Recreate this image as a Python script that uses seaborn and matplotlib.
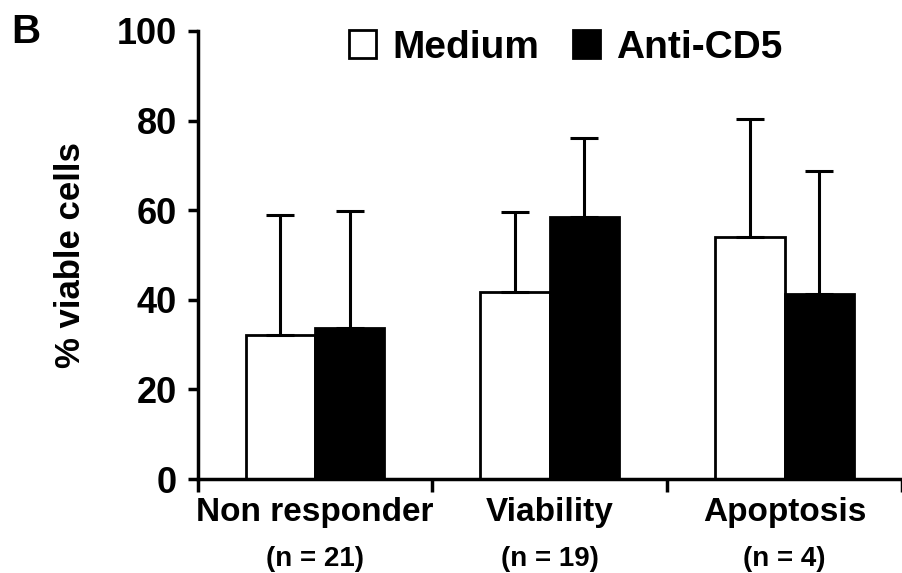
import pandas as pd
import matplotlib
matplotlib.use('Agg')
import matplotlib.pyplot as plt
import seaborn as sns

# --- Data ---
GROUPS = ['Non responder', 'Viability', 'Apoptosis']
GROUP_N = ['(n = 21)', '(n = 19)', '(n = 4)']
TREATMENTS = ['Medium', 'Anti-CD5']
MEDIUM_MEAN = [32.1, 41.8, 54.1]
ANTI_CD5_MEAN = [33.6, 58.4, 41.2]
MEDIUM_SD = [26.8, 17.9, 26.2]
ANTI_CD5_SD = [26.2, 17.8, 27.6]
Y_TICKS = [0, 20, 40, 60, 80, 100]

sns.set_theme(style='white')
plt.rcParams['font.family'] = ['Liberation Sans', 'DejaVu Sans']
plt.rcParams['font.weight'] = 'bold'
# seaborn greys out text; the original is pure black
for key in ['text.color', 'xtick.color', 'ytick.color', 'axes.labelcolor', 'axes.edgecolor']:
    plt.rcParams[key] = 'black'

df = pd.DataFrame({
    'Group': GROUPS * 2,
    'Treatment': ['Medium'] * 3 + ['Anti-CD5'] * 3,
    'Value': MEDIUM_MEAN + ANTI_CD5_MEAN,
})
sds = {'Medium': MEDIUM_SD, 'Anti-CD5': ANTI_CD5_SD}

fig = plt.figure(figsize=(9.02, 5.73), dpi=100)
ax = fig.add_axes([0.219, 0.164, 0.781, 0.782])

sns.barplot(data=df, x='Group', y='Value', hue='Treatment', hue_order=TREATMENTS,
            order=GROUPS, palette={'Medium': 'white', 'Anti-CD5': 'black'},
            edgecolor='black', linewidth=2, width=0.59, gap=0, errorbar=None,
            legend=False, ax=ax)

# one-sided (upper) SD error bars
for container, name in zip(ax.containers, TREATMENTS):
    xs = [p.get_x() + p.get_width() / 2 for p in container.patches]
    hs = [p.get_height() for p in container.patches]
    ax.errorbar(xs, hs, yerr=[[0] * len(xs), sds[name]], fmt='none', ecolor='black',
                elinewidth=2.2, capsize=10, capthick=2.2, zorder=1)

ax.set_xlim(-0.5, 2.5)
ax.set_ylim(0, 100)
ax.set_yticks(Y_TICKS)
ax.set_xticks([-0.5, 0.5, 1.5, 2.5], minor=True)
ax.tick_params(axis='x', which='major', length=0, pad=13, labelsize=24)
ax.tick_params(axis='x', which='minor', length=9, width=2.5, direction='out', bottom=True)
ax.tick_params(axis='y', length=7, width=2.5, pad=8, labelsize=26, left=True)
for lab in ax.get_xticklabels() + ax.get_yticklabels():
    lab.set_fontweight('bold')

for side in ['top', 'right']:
    ax.spines[side].set_visible(False)
for side in ['left', 'bottom']:
    ax.spines[side].set_linewidth(2.5)
    ax.spines[side].set_color('black')

ax.set_xlabel('')
ax.set_ylabel('')
fig.text(0.078, 0.555, '% viable cells', rotation=90, ha='center', va='center',
         fontsize=25, fontweight='bold')

for i, n in enumerate(GROUP_N):
    ax.text(i, -0.195, n, transform=ax.get_xaxis_transform(), ha='center',
            va='baseline', fontsize=20, fontweight='bold')

fig.text(0.012, 0.925, 'B', fontsize=29, fontweight='bold', va='baseline')

handles = [plt.Rectangle((0, 0), 1, 1, facecolor='white', edgecolor='black', linewidth=2),
           plt.Rectangle((0, 0), 1, 1, facecolor='black', edgecolor='black', linewidth=2)]
fig.legend(handles, TREATMENTS, loc='center left', bbox_to_anchor=(0.387, 0.917),
           ncol=2, frameon=False, prop={'size': 28, 'weight': 'bold'},
           handlelength=0.7, handleheight=0.7, handletextpad=0.42,
           columnspacing=0.85, borderpad=0, borderaxespad=0)

fig.savefig('out.png', dpi=100)
